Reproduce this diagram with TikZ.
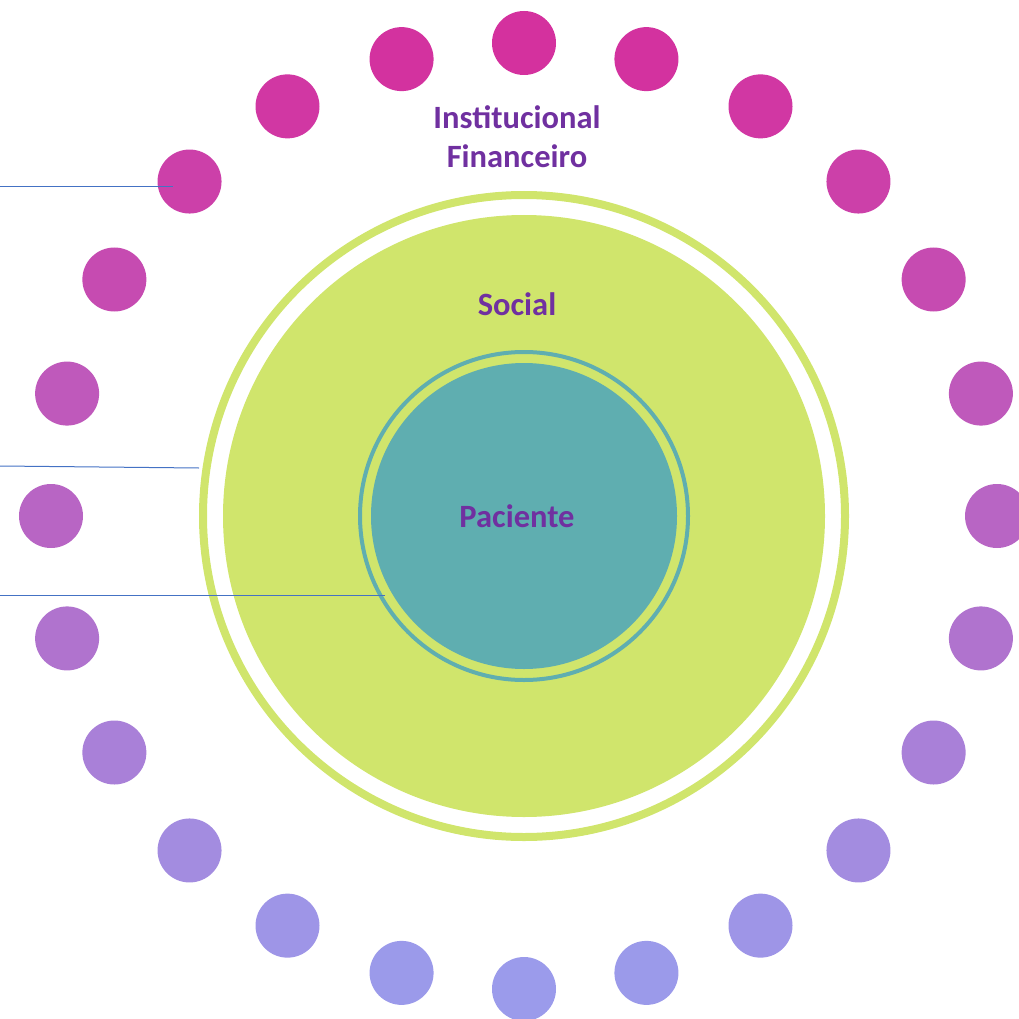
\documentclass[tikz,border=0pt]{standalone}
\usepackage{fontspec}
\setmainfont{Carlito}
\definecolor{dottop}{HTML}{D4319E}
\definecolor{dotbot}{HTML}{9A9CEC}
\definecolor{grn}{HTML}{D0E56C}
\definecolor{teal1}{HTML}{5FAEB0}
\definecolor{lbl}{HTML}{7030A0}
\definecolor{lnc}{HTML}{4472C4}
\begin{document}
\begin{tikzpicture}[x=0.2mm,y=-0.2mm,
  dot/.style={circle, inner sep=0pt, minimum size=12.8mm},
  txt/.style={anchor=base, text=lbl, font=\fontsize{18.5}{22}\selectfont\bfseries},
  pointer/.style={draw=lnc, line width=0.2mm}]
\useasboundingbox (0,0) rectangle (1019,1019);
\clip (0,0) rectangle (1019,1019);
\coordinate (c) at (524,516);
% ring of dots
\foreach \k in {0,...,23}{
  \pgfmathsetmacro\dx{524+473*sin(15*\k)}
  \pgfmathsetmacro\dy{516-473*cos(15*\k)}
  \pgfmathtruncatemacro\p{(\dy-43)/9.46}
  \node[dot, fill=dotbot!\p!dottop](d\k) at (\dx,\dy) {};
}
% social circle
\draw[grn, line width=1.6mm] (c) circle (321);
\fill[grn] (c) circle (301);
% patient circle
\draw[teal1, line width=0.8mm] (c) circle (164);
\fill[teal1] (c) circle (153);
\node[txt](inst) at (517,129) {Institucional};
\node[txt](fin) at (517,168) {Financeiro};
\node[txt](soc) at (517,315) {Social};
\node[txt](pac) at (517,527) {Paciente};
% pointers
\coordinate (a1) at (0,187);
\coordinate (b1) at (173,187);
\coordinate (a2) at (0,466);
\coordinate (b2) at (199,468);
\coordinate (a3) at (0,595);
\coordinate (b3) at (385,595);
\draw[pointer] (a1)--(b1);
\draw[pointer] (a2)--(b2);
\draw[pointer] (a3)--(b3);
\end{tikzpicture}
\end{document}
